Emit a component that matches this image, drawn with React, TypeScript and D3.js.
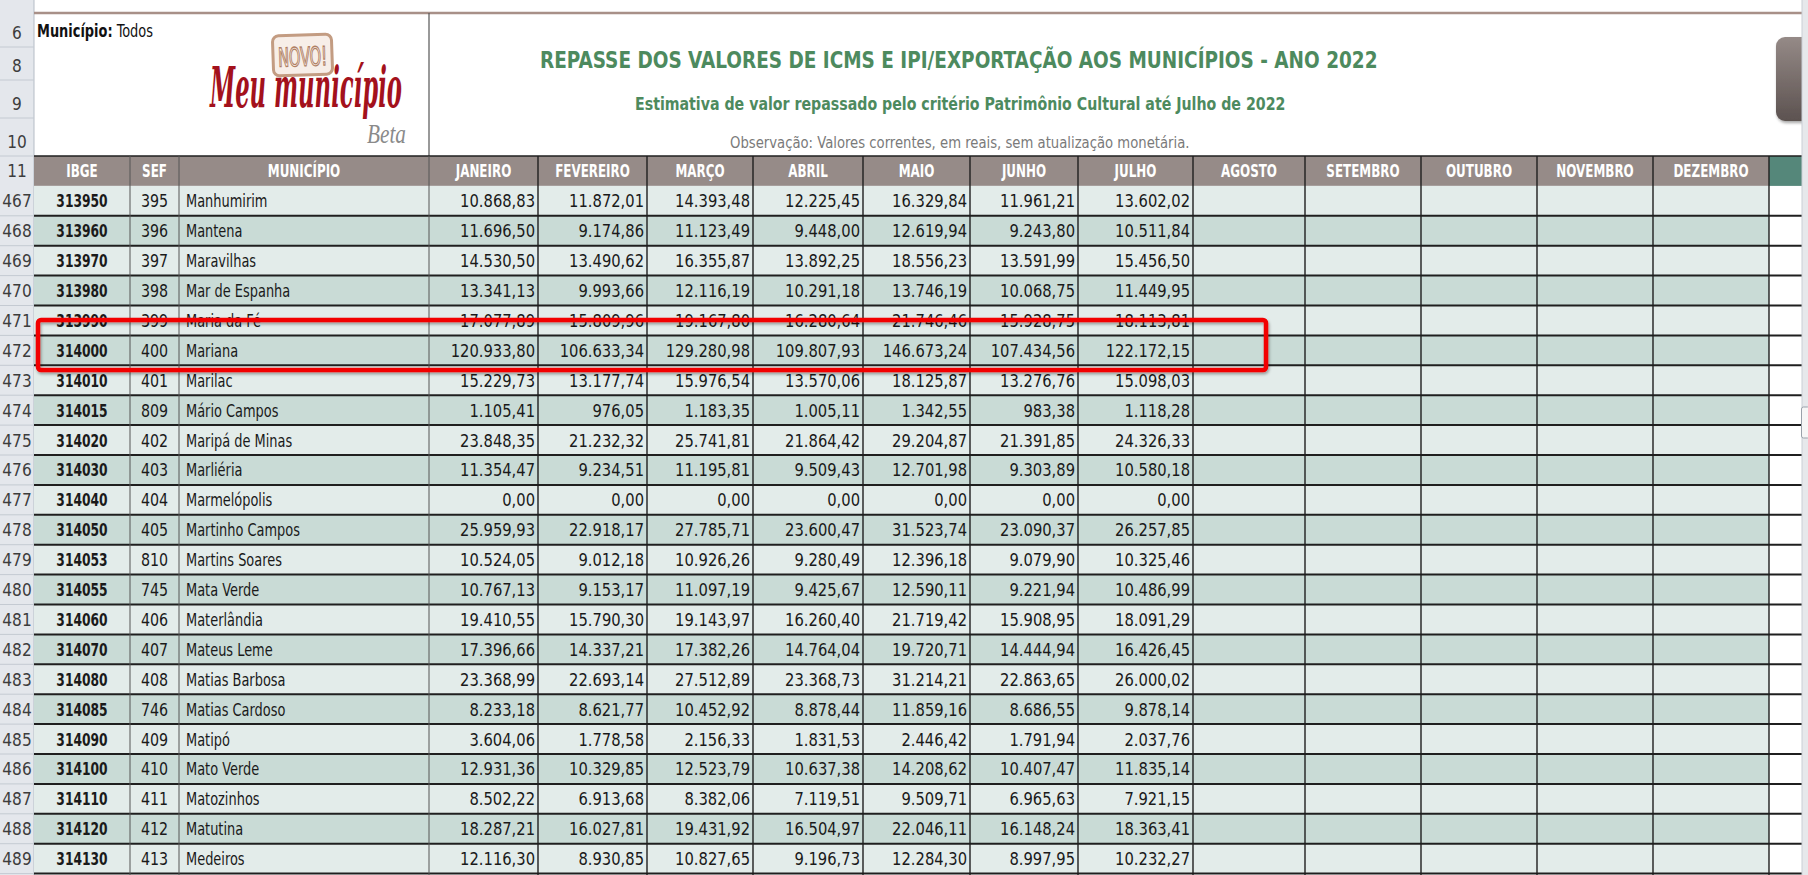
import { useRef, useLayoutEffect } from 'react';
import * as d3 from 'd3';

// ---- data ----
const rowNumbers = [467, 468, 469, 470, 471, 472, 473, 474, 475, 476, 477, 478, 479, 480, 481, 482, 483, 484, 485, 486, 487, 488, 489];
const ibge = ['313950', '313960', '313970', '313980', '313990', '314000', '314010', '314015', '314020', '314030', '314040', '314050', '314053', '314055', '314060', '314070', '314080', '314085', '314090', '314100', '314110', '314120', '314130'];
const sef = ['395', '396', '397', '398', '399', '400', '401', '809', '402', '403', '404', '405', '810', '745', '406', '407', '408', '746', '409', '410', '411', '412', '413'];
const municipios = ['Manhumirim', 'Mantena', 'Maravilhas', 'Mar de Espanha', 'Maria da Fé', 'Mariana', 'Marilac', 'Mário Campos', 'Maripá de Minas', 'Marliéria', 'Marmelópolis', 'Martinho Campos', 'Martins Soares', 'Mata Verde', 'Materlândia', 'Mateus Leme', 'Matias Barbosa', 'Matias Cardoso', 'Matipó', 'Mato Verde', 'Matozinhos', 'Matutina', 'Medeiros'];

const janeiro = [10868.83, 11696.50, 14530.50, 13341.13, 17077.89, 120933.80, 15229.73, 1105.41, 23848.35, 11354.47, 0, 25959.93, 10524.05, 10767.13, 19410.55, 17396.66, 23368.99, 8233.18, 3604.06, 12931.36, 8502.22, 18287.21, 12116.30];
const fevereiro = [11872.01, 9174.86, 13490.62, 9993.66, 15809.96, 106633.34, 13177.74, 976.05, 21232.32, 9234.51, 0, 22918.17, 9012.18, 9153.17, 15790.30, 14337.21, 22693.14, 8621.77, 1778.58, 10329.85, 6913.68, 16027.81, 8930.85];
const marco = [14393.48, 11123.49, 16355.87, 12116.19, 19167.80, 129280.98, 15976.54, 1183.35, 25741.81, 11195.81, 0, 27785.71, 10926.26, 11097.19, 19143.97, 17382.26, 27512.89, 10452.92, 2156.33, 12523.79, 8382.06, 19431.92, 10827.65];
const abril = [12225.45, 9448.00, 13892.25, 10291.18, 16280.64, 109807.93, 13570.06, 1005.11, 21864.42, 9509.43, 0, 23600.47, 9280.49, 9425.67, 16260.40, 14764.04, 23368.73, 8878.44, 1831.53, 10637.38, 7119.51, 16504.97, 9196.73];
const maio = [16329.84, 12619.94, 18556.23, 13746.19, 21746.46, 146673.24, 18125.87, 1342.55, 29204.87, 12701.98, 0, 31523.74, 12396.18, 12590.11, 21719.42, 19720.71, 31214.21, 11859.16, 2446.42, 14208.62, 9509.71, 22046.11, 12284.30];
const junho = [11961.21, 9243.80, 13591.99, 10068.75, 15928.75, 107434.56, 13276.76, 983.38, 21391.85, 9303.89, 0, 23090.37, 9079.90, 9221.94, 15908.95, 14444.94, 22863.65, 8686.55, 1791.94, 10407.47, 6965.63, 16148.24, 8997.95];
const julho = [13602.02, 10511.84, 15456.50, 11449.95, 18113.81, 122172.15, 15098.03, 1118.28, 24326.33, 10580.18, 0, 26257.85, 10325.46, 10486.99, 18091.29, 16426.45, 26000.02, 9878.14, 2037.76, 11835.14, 7921.15, 18363.41, 10232.27];

const fixedHeaders = ['IBGE', 'SEF', 'MUNICÍPIO'];
const monthHeaders = ['JANEIRO', 'FEVEREIRO', 'MARÇO', 'ABRIL', 'MAIO', 'JUNHO', 'JULHO', 'AGOSTO', 'SETEMBRO', 'OUTUBRO', 'NOVEMBRO', 'DEZEMBRO'];
const monthValues = [janeiro, fevereiro, marco, abril, maio, junho, julho];
const topRows = ['6', '8', '9', '10'];

const title = 'REPASSE DOS VALORES DE ICMS E IPI/EXPORTAÇÃO AOS MUNICÍPIOS - ANO 2022';
const subtitle = 'Estimativa de valor repassado pelo critério Patrimônio Cultural até Julho de 2022';
const note = 'Observação: Valores correntes, em reais, sem atualização monetária.';

// ---- layout ----
const W = 1808;
const H = 875;
const FONT = "'DejaVu Sans Condensed', 'DejaVu Sans', sans-serif";
const colEdges = [34, 130, 179, 429, 538, 647, 753, 863, 970, 1078, 1193, 1305, 1421, 1537, 1653, 1769, 1802];
const headerTop = 156;
const rowH = 29.9;
const topEdges = [13, 47, 80, 118, 156];

const y = d3.scaleBand<number>()
  .domain(rowNumbers)
  .range([headerTop + rowH, headerTop + rowH * (rowNumbers.length + 1)]);

const br = d3.formatLocale({ decimal: ',', thousands: '.', grouping: [3], currency: ['R$', ''] });
const fmt = br.format(',.2f');

// squeezed text, the sheet uses a narrow font
function T({ x, y, sx = 1, anchor = 'start', size = 18, bold = false, fill = '#1a1a1a', children }: any) {
  return (
    <text transform={`translate(${x},${y}) scale(${sx},1)`} textAnchor={anchor} fontFamily={FONT}
      fontSize={size} fontWeight={bold ? 'bold' : 'normal'} fill={fill}>{children}</text>
  );
}

// text squeezed to a given width by measuring it
function Fit({ x, y, width, children, ...rest }: any) {
  const ref = useRef<SVGTextElement>(null);
  useLayoutEffect(() => {
    const el = ref.current;
    if (!el) return;
    const w = el.getComputedTextLength();
    const s = w > 0 ? width / w : 1;
    el.setAttribute('transform', `translate(${x},${y}) scale(${s},1)`);
  }, [x, y, width]);
  return <text ref={ref} transform={`translate(${x},${y})`} {...rest}>{children}</text>;
}

export default function App() {
  const bandH = y.bandwidth();
  const tableRight = colEdges[colEdges.length - 1];
  const lastMonthRight = colEdges[colEdges.length - 2];

  return (
    <svg width={W} height={H} style={{ position: 'absolute', left: 0, top: 0, display: 'block', background: '#fff' }}>
      <defs>
        <linearGradient id="btn" x1="0" y1="0" x2="0" y2="1">
          <stop offset="0" stopColor="#958a87" />
          <stop offset="1" stopColor="#5c5250" />
        </linearGradient>
        <filter id="shadow" x="-5%" y="-20%" width="110%" height="160%">
          <feDropShadow dx="1" dy="2" stdDeviation="1.5" floodColor="#000" floodOpacity="0.35" />
        </filter>
      </defs>

      {/* row header column */}
      <rect x={0} y={0} width={colEdges[0]} height={H} fill="#e4e7ec" />
      <line x1={colEdges[0]} x2={colEdges[0]} y1={0} y2={H} stroke="#b5bcc6" />
      {topRows.map((r, i) => (
        <g key={r}>
          <line x1={0} x2={colEdges[0]} y1={topEdges[i + 1]} y2={topEdges[i + 1]} stroke="#c4cad2" />
          <T x={colEdges[0] / 2} y={topEdges[i + 1] - 8} anchor="middle" sx={0.95} fill="#3d3d3d">{r}</T>
        </g>
      ))}
      <T x={colEdges[0] / 2} y={headerTop + rowH / 2 + 6} anchor="middle" sx={0.95} fill="#3d3d3d">11</T>

      {/* top banner */}
      <line x1={colEdges[0]} x2={tableRight} y1={13} y2={13} stroke="#a89088" strokeWidth={2.5} />
      <line x1={colEdges[3]} x2={colEdges[3]} y1={13} y2={headerTop} stroke="#555" strokeWidth={1.2} />
      <text transform="translate(37,37) scale(0.8,1)" fontFamily={FONT} fontSize={18} fill="#111">
        <tspan fontWeight="bold">Município:</tspan> Todos
      </text>

      {/* logo */}
      <g transform="rotate(-2 302 55)">
        <rect x={273} y={35} width={59} height={40} rx={6} fill="#f7eee8" stroke="#c39c82" strokeWidth={3} />
        <Fit x={278} y={66} width={49} fontFamily={FONT} fontSize={26} fill="#fbf4ef" stroke="#b08064" strokeWidth={1.3}>NOVO!</Fit>
      </g>
      <Fit x={210} y={107} width={192} fontFamily="'DejaVu Serif', serif" fontStyle="italic" fontWeight="bold" fontSize={56} fill="#a3111c">Meu município</Fit>
      <Fit x={367} y={143} width={39} fontFamily="'Liberation Serif', serif" fontStyle="italic" fontSize={27} fill="#8a8a8a">Beta</Fit>

      <Fit x={540} y={68} width={838} fontFamily={FONT} fontWeight="bold" fontSize={23} fill="#4d8a5e">{title}</Fit>
      <Fit x={635} y={110} width={651} fontFamily={FONT} fontWeight="bold" fontSize={18} fill="#4d8a5e">{subtitle}</Fit>
      <Fit x={730} y={148} width={460} fontFamily={FONT} fontSize={16.5} fill="#7a7a7a">{note}</Fit>

      {/* button top right */}
      <rect x={1776} y={37} width={40} height={84} rx={9} fill="url(#btn)" filter="url(#shadow)" />

      {/* header row */}
      <rect x={colEdges[0]} y={headerTop} width={lastMonthRight - colEdges[0]} height={rowH} fill="#968b88" />
      <rect x={lastMonthRight} y={headerTop} width={tableRight - lastMonthRight} height={rowH} fill="#55877a" />
      {[...fixedHeaders, ...monthHeaders].map((h, i) => (
        <T key={h} x={(colEdges[i] + colEdges[i + 1]) / 2} y={headerTop + rowH / 2 + 6.5} anchor="middle"
          bold size={17} sx={0.78} fill="#fff">{h}</T>
      ))}

      {/* body rows */}
      {rowNumbers.map((r, i) => {
        const top = y(r)!;
        const mid = top + bandH / 2 + 6.5;
        const fill = i % 2 === 0 ? '#e3ecea' : '#c9dbd6';
        return (
          <g key={r}>
            <rect x={colEdges[0]} y={top} width={lastMonthRight - colEdges[0]} height={bandH} fill={fill} />
            <line x1={0} x2={colEdges[0]} y1={top + bandH} y2={top + bandH} stroke="#c4cad2" />
            <T x={colEdges[0] / 2} y={mid} anchor="middle" sx={0.95} fill="#3d3d3d">{r}</T>
            <T x={(colEdges[0] + colEdges[1]) / 2} y={mid} anchor="middle" bold sx={0.76}>{ibge[i]}</T>
            <T x={(colEdges[1] + colEdges[2]) / 2} y={mid} anchor="middle" sx={0.88}>{sef[i]}</T>
            <T x={colEdges[2] + 7} y={mid} sx={0.8}>{municipios[i]}</T>
            {monthValues.map((vals, m) => (
              <T key={m} x={colEdges[m + 4] - 3} y={mid} anchor="end" sx={0.91}>{fmt(vals[i])}</T>
            ))}
          </g>
        );
      })}

      {/* grid */}
      {[headerTop, ...rowNumbers.map(r => y(r)! + bandH)].map((gy, i) => (
        <line key={'h' + i} x1={colEdges[0]} x2={tableRight} y1={gy} y2={gy} stroke="#1f1f1f" strokeWidth={i === 0 ? 1.5 : 2} />
      ))}
      {colEdges.slice(1, -1).map((gx, i) => (
        <line key={'v' + i} x1={gx} x2={gx} y1={headerTop} y2={H} stroke={i < 3 ? '#555' : '#1f1f1f'} strokeWidth={i < 3 ? 1 : 1.4} />
      ))}

      {/* highlight around Mariana */}
      <rect x={38} y={320} width={1228} height={50} rx={3} fill="none" stroke="#f20000" strokeWidth={4.5} filter="url(#shadow)" />

      {/* scrollbar strip */}
      <rect x={tableRight} y={0} width={W - tableRight} height={H} fill="#e6e8eb" />
      <line x1={tableRight} x2={tableRight} y1={0} y2={H} stroke="#c9ced5" />
      <rect x={tableRight - 0.5} y={407} width={8} height={31} rx={2} fill="#f6f6f6" stroke="#9aa1aa" />
    </svg>
  );
}
